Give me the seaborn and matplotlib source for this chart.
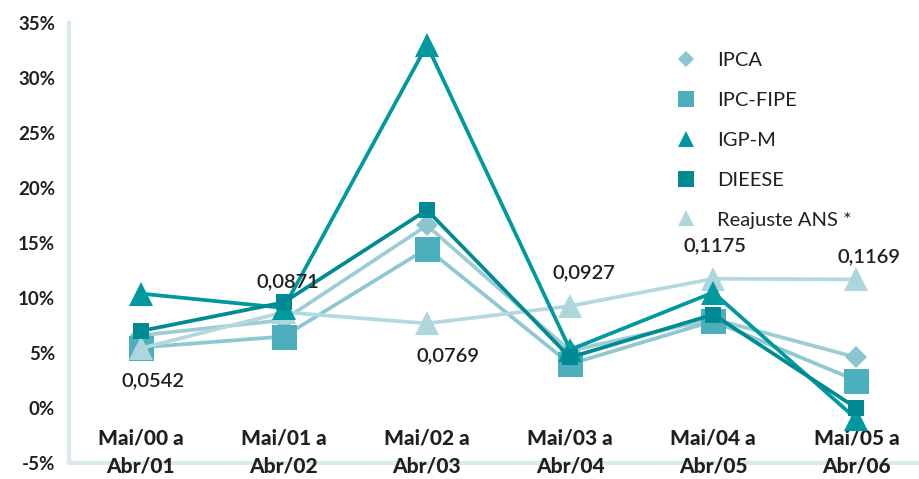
import matplotlib
matplotlib.use("Agg")
import matplotlib.pyplot as plt
from matplotlib.lines import Line2D
from matplotlib.ticker import FuncFormatter
import seaborn as sns
import pandas as pd

# Periods (May to April) and annual variation of each index, in %
periodos = ["Mai/00 a\nAbr/01", "Mai/01 a\nAbr/02", "Mai/02 a\nAbr/03",
            "Mai/03 a\nAbr/04", "Mai/04 a\nAbr/05", "Mai/05 a\nAbr/06"]
ipca = [6.6, 8.0, 16.6, 5.2, 8.1, 4.6]
ipc_fipe = [5.5, 6.5, 14.5, 4.0, 7.9, 2.5]
igp_m = [10.4, 9.1, 33.0, 5.3, 10.5, -1.0]
dieese = [7.0, 9.6, 18.0, 4.6, 8.5, 0.0]
reajuste_ans = [5.42, 8.71, 7.69, 9.27, 11.75, 11.69]

nomes = ["IPCA", "IPC-FIPE", "IGP-M", "DIEESE", "Reajuste ANS *"]
valores = [ipca, ipc_fipe, igp_m, dieese, reajuste_ans]

# line colour, marker colour, marker, plot marker size, legend marker size, zorder
estilos = {
    "IPCA":           ("#9ccdd5", "#8bc5cf", "D", 11, 8, 2),
    "IPC-FIPE":       ("#8ec8d0", "#4cafbb", "s", 18, 11, 3),
    "Reajuste ANS *": ("#b3d9df", "#aed7dd", "^", 17, 11, 4),
    "IGP-M":          ("#00999f", "#00999f", "^", 17, 11, 5),
    "DIEESE":         ("#008b94", "#008b94", "s", 11, 11, 6),
}

df = pd.DataFrame({
    "periodo": periodos * len(nomes),
    "pos": list(range(len(periodos))) * len(nomes),
    "indice": [n for n in nomes for _ in periodos],
    "valor": [v for serie in valores for v in serie],
})

sns.set_theme(style="white")
plt.rcParams["font.family"] = ["Lato", "DejaVu Sans"]
texto = "#231f20"
eixo = "#d9ebec"

fig = plt.figure(figsize=(9.19, 4.79), dpi=100)
ax = fig.add_axes([69 / 919, 16 / 479, 859 / 919, 440 / 479])

for nome in ["IPCA", "IPC-FIPE", "Reajuste ANS *", "IGP-M", "DIEESE"]:
    cor_linha, cor_marc, marc, tam, _, z = estilos[nome]
    sub = df[df["indice"] == nome]
    sns.lineplot(data=sub, x="pos", y="valor", ax=ax, color=cor_linha,
                 linewidth=2.7, zorder=z, legend=False)
    ax.plot(sub["pos"], sub["valor"], linestyle="none", marker=marc,
            markersize=tam, markerfacecolor=cor_marc, markeredgecolor=cor_marc,
            markeredgewidth=0, zorder=z + 0.5)

# ANS value labels: offsets in points (dx, dy)
deslocamentos = [(9, -23), (3, 22), (15, -23), (10, 24), (1, 24), (9, 16)]
for i, (v, (dx, dy)) in enumerate(zip(reajuste_ans, deslocamentos)):
    ax.annotate(f"{v / 100:.4f}".replace(".", ","), (i, v),
                xytext=(dx, dy), textcoords="offset points",
                ha="center", va="center", fontsize=14.5, color=texto,
                fontweight="semibold", zorder=10)

ax.set_xlim(-0.5, 5.5)
ax.set_ylim(-5, 35)
ax.set_yticks(range(-5, 36, 5))
ax.yaxis.set_major_formatter(FuncFormatter(lambda v, _: f"{v:.0f}%"))
ax.set_xticks(range(len(periodos)))
ax.set_xticklabels(periodos, linespacing=1.6)
ax.set_xlabel("")
ax.set_ylabel("")

for lado in ["top", "right"]:
    ax.spines[lado].set_visible(False)
for lado in ["left", "bottom"]:
    ax.spines[lado].set_color(eixo)
    ax.spines[lado].set_linewidth(3)
    ax.spines[lado].set_zorder(0.5)

ax.tick_params(axis="y", which="major", direction="out", length=5, width=2,
               color=eixo, pad=5, labelsize=13.5, labelcolor=texto)
ax.tick_params(axis="x", which="major", length=0, pad=-25, labelsize=15,
               labelcolor=texto)
for t in ax.get_yticklabels():
    t.set_fontweight("bold")
for t in ax.get_xticklabels():
    t.set_fontweight("black")

handles = []
for nome in nomes:
    _, cor_marc, marc, _, tam_leg, _ = estilos[nome]
    handles.append(Line2D([], [], linestyle="none", marker=marc,
                          markersize=tam_leg, markerfacecolor=cor_marc,
                          markeredgewidth=0, label=nome))
leg = ax.legend(handles=handles, loc="upper left",
                bbox_to_anchor=(676 / 919, 1 - 52 / 479),
                bbox_transform=fig.transFigure, frameon=False,
                fontsize=14.5, handlelength=1.0, handletextpad=1.05,
                labelspacing=1.13, borderaxespad=0, borderpad=0)
for t in leg.get_texts():
    t.set_color(texto)

fig.savefig("out.png", dpi=100)
